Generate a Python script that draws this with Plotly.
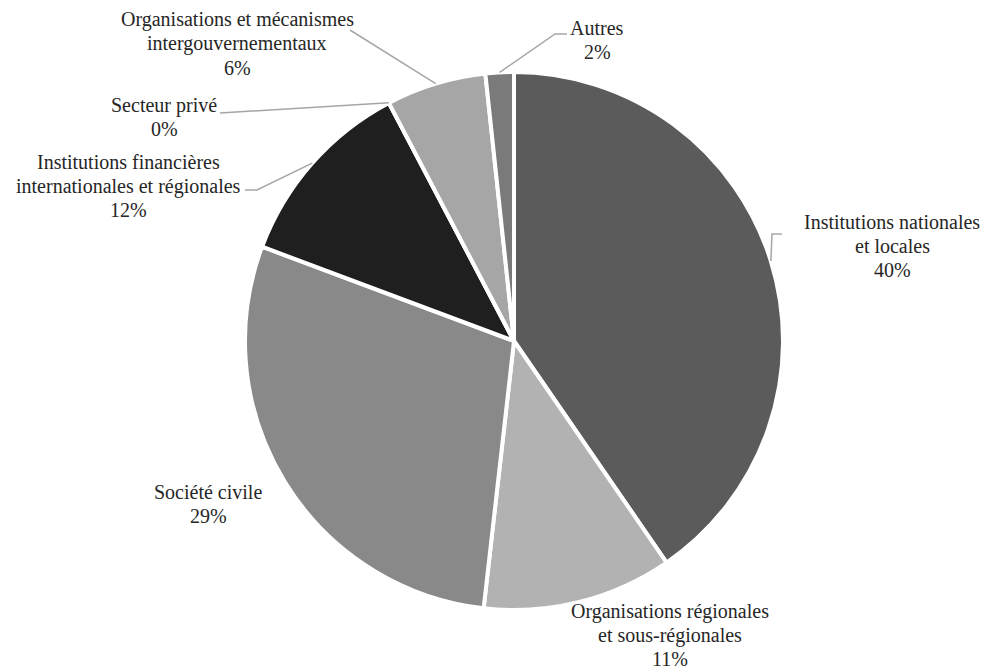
import math
import plotly.graph_objects as go

# ---- data ----
categories = [
    "Institutions nationales<br>et locales",
    "Organisations régionales<br>et sous-régionales",
    "Société civile",
    "Institutions financières<br>internationales et régionales",
    "Secteur privé",
    "Organisations et mécanismes<br>intergouvernementaux",
    "Autres",
]
values = [40.4, 11.4, 28.9, 11.6, 0.0, 6.0, 1.7]

# ---- style ----
colors = ["#5b5b5b", "#b2b2b2", "#898989", "#1f1f1f", "#cfcfcf", "#a6a6a6", "#7a7a7a"]
W, H = 983, 671
CX, CY, R = 514, 341, 269
LINE_H = 24
FONT = dict(family="'Times New Roman', 'Liberation Serif', serif", size=20, color="#262626")
# label block centre (px) and leader elbow points (px)
label_pos = [(892, 246), (670, 635), (208, 504), (128, 186), (164, 117), (237, 44), (597, 40)]
leader = [
    [(772, 234), (782, 234)],
    None,
    None,
    [(257, 190), (245, 190)],
    [(220, 113)],
    [(350, 30)],
    [(555, 34), (567, 34)],
]

fig = go.Figure()
fig.add_trace(go.Pie(
    labels=[c.replace("<br>", " ") for c in categories],
    values=values,
    sort=False,
    direction="clockwise",
    rotation=0,
    textinfo="none",
    hoverinfo="label+percent",
    marker=dict(colors=colors, line=dict(color="white", width=4)),
    domain=dict(x=[(CX - R) / W, (CX + R) / W], y=[1 - (CY + R) / H, 1 - (CY - R) / H]),
    showlegend=False,
))

total = sum(values)
cum = 0
annotations = []
shapes = []
for i, (cat, v) in enumerate(zip(categories, values)):
    mid = (cum + v / 2) / total * 2 * math.pi
    cum += v
    ax = CX + R * math.sin(mid)
    ay = CY - R * math.cos(mid)
    lx, ly = label_pos[i]
    pct = round(v / total * 100)
    lines = cat.split("<br>") + [f"{pct}%"]
    n = len(lines)
    for k, line in enumerate(lines):
        y = ly + (k - (n - 1) / 2) * LINE_H
        annotations.append(dict(
            x=lx / W, y=1 - y / H, xref="paper", yref="paper",
            text=line, showarrow=False, align="center",
            xanchor="center", yanchor="middle", font=FONT,
        ))
    if leader[i]:
        pts = [(ax, ay)] + leader[i]
        path = "M " + " L ".join(f"{p[0] / W:.5f},{1 - p[1] / H:.5f}" for p in pts)
        shapes.append(dict(type="path", path=path, xref="paper", yref="paper",
                           line=dict(color="#a6a6a6", width=1.5)))

fig.update_layout(
    width=W, height=H,
    margin=dict(l=0, r=0, t=0, b=0),
    paper_bgcolor="white", plot_bgcolor="white",
    font=FONT,
    annotations=annotations, shapes=shapes,
)
fig.write_html("out.html")
